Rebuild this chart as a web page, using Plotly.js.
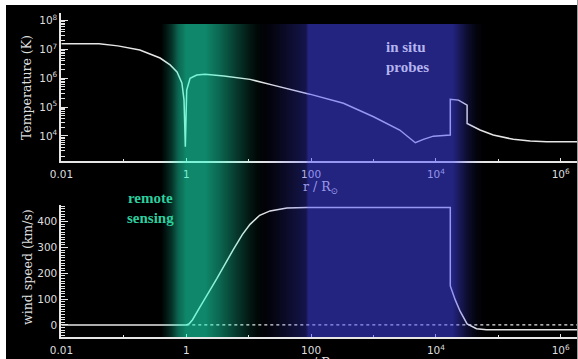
<!DOCTYPE html>
<html>
<head>
<meta charset="utf-8">
<script src="https://cdn.plot.ly/plotly-3.0.1.min.js"></script>
<style>
  html, body { margin: 0; padding: 0; background: #000; }
  #chart { width: 578px; height: 359px; }
</style>
</head>
<body>
<div id="chart"></div>
<script>
// Heliocentric distance in solar radii and the electron temperature profile
const rTemp = [0.01, 0.04, 0.08, 0.18, 0.38, 0.55, 0.71, 0.85, 0.92, 0.965, 1.015, 1.15, 1.47, 2.0, 4.0,
  10.5, 24.5, 95, 330, 1000, 2630, 4680, 6300, 9100, 17000, 17000, 23000, 31600, 31600, 51000, 83000,
  174000, 324000, 600000, 1.9e6];
const tempK = [1.55e7, 1.55e7, 1.32e7, 9.5e6, 5.0e6, 2.9e6, 1.66e6, 6.8e5, 1.74e5, 4200, 3.9e5, 1.0e6, 1.29e6, 1.38e6, 1.2e6,
  9.1e5, 5.75e5, 2.8e5, 1.35e5, 4.6e4, 1.6e4, 5800, 7600, 9800, 1.07e4, 1.86e5, 1.74e5, 1.17e5, 2.7e4, 1.6e4, 1.07e4,
  7600, 6600, 6300, 6300];

// Solar wind speed profile
const rWind = [0.01, 1.0, 1.12, 1.26, 1.66, 3.1, 5.6, 7.9, 10.5, 15, 22, 41, 85, 17000, 17000, 20400, 24500, 31600,
  44700, 64600, 1.9e6];
const windKms = [0, 0, 5, 20, 70, 180, 290, 350, 390, 425, 442, 453, 455, 455, 151, 97, 52, 4, -15, -19, -19];

// Zero reference drawn dotted beyond the solar surface
const rZero = [1, 1.9e6];
const zeroKms = [0, 0];

// Axis ticks
const xTickVals = [0.01, 1, 100, 1e4, 1e6];
const xTickText = ['0.01', '1', '100', '10<sup>4</sup>', '10<sup>6</sup>'];
const xMinorVals = [0.1, 10, 1000, 1e5];
const tTickVals = [1e4, 1e5, 1e6, 1e7, 1e8];
const tTickText = ['10<sup>4</sup>', '10<sup>5</sup>', '10<sup>6</sup>', '10<sup>7</sup>', '10<sup>8</sup>'];
const vTickVals = [0, 100, 200, 300, 400];
const vTickText = ['0', '100', '200', '300', '400'];

// Observation regimes, as opacity stops along log10(r)
const remoteStops = [[-0.40, 0], [-0.24, 0.35], [-0.13, 0.75], [0.0, 1], [0.30, 1], [0.54, 0.75],
  [0.78, 0.45], [0.99, 0.2], [1.15, 0.05], [1.26, 0]];
const inSituStops = [[1.15, 0], [1.34, 0.1], [1.58, 0.3], [1.82, 0.5], [1.92, 0.6], [1.95, 1],
  [4.27, 1], [4.38, 0.7], [4.51, 0.35], [4.64, 0.12], [4.77, 0]];

const W = 578, H = 359, L = 61;
const xRange = [-2.008, 6.277];
const plotW = W - L;

const lineCol = '#e6e6e6';
const tickFont = { family: 'DejaVu Sans', size: 10.5, color: '#dedede' };
const titleFont = { family: 'DejaVu Serif', size: 12.5, color: '#dedede' };

function interp(stops, v) {
  if (v <= stops[0][0] || v >= stops[stops.length - 1][0]) return 0;
  for (let i = 1; i < stops.length; i++) {
    if (v <= stops[i][0]) {
      const [a0, o0] = stops[i - 1], [a1, o1] = stops[i];
      return o0 + (o1 - o0) * (v - a0) / (a1 - a0);
    }
  }
  return 0;
}

// Translucent colour wash over both panels, one pixel column at a time
const shapes = [];
const bandTop = 1 - 24 / H, bandBot = 1 - 337 / H;
for (let px = 150; px < 500; px++) {
  const lr = xRange[0] + (px + 0.5 - L) / plotW * (xRange[1] - xRange[0]);
  const g = interp(remoteStops, lr) * 0.53;
  const b = interp(inSituStops, lr) * 0.5;
  const a = g + b;
  if (a <= 0.002) continue;
  const r = Math.round((28 * g + 70 * b) / a);
  const gg = Math.round((255 * g + 70 * b) / a);
  const bb = Math.round((200 * g + 255 * b) / a);
  shapes.push({
    type: 'rect', xref: 'paper', yref: 'paper', layer: 'above',
    x0: (px - L) / plotW, x1: (px + 1 - L) / plotW, y0: bandBot, y1: bandTop,
    fillcolor: `rgba(${r},${gg},${bb},${a.toFixed(3)})`, line: { width: 0 }
  });
}
// Light frame along the page edges
shapes.push({ type: 'rect', xref: 'paper', yref: 'paper', layer: 'above',
  x0: -L / plotW, x1: 1.01, y0: 1 - 5 / H, y1: 1.01, fillcolor: '#ffffff', line: { width: 0 } });
shapes.push({ type: 'rect', xref: 'paper', yref: 'paper', layer: 'above',
  x0: -L / plotW - 0.01, x1: (6 - L) / plotW, y0: -0.01, y1: 1.01, fillcolor: '#ffffff', line: { width: 0 } });
shapes.push({ type: 'rect', xref: 'paper', yref: 'paper', layer: 'above',
  x0: (W - 1 - L) / plotW, x1: 1.01, y0: -0.01, y1: 1.01, fillcolor: '#9a9a9a', line: { width: 0 } });

const yMinorT = [];
for (let e = 3; e <= 8; e++) for (let m = 2; m <= 9; m++) yMinorT.push(m * Math.pow(10, e));
const yMinorV = [];
for (let v = -40; v <= 460; v += 10) if (v % 100 !== 0) yMinorV.push(v);

const xCommon = {
  type: 'log', range: xRange, showgrid: false, zeroline: false,
  showline: true, linecolor: lineCol, linewidth: 1.6,
  ticks: 'inside', ticklen: 3, tickwidth: 1, tickcolor: lineCol,
  tickmode: 'array', tickvals: xTickVals, ticktext: xTickText, tickfont: tickFont,
  ticklabelstandoff: 3,
  minor: { tickmode: 'array', tickvals: xMinorVals, ticks: 'inside', ticklen: 2, tickcolor: lineCol, showgrid: false },
  automargin: false
};

const yCommon = {
  showgrid: false, zeroline: false, showline: true, linecolor: lineCol, linewidth: 1.6,
  ticks: 'inside', ticklen: 7, tickwidth: 1, tickcolor: lineCol,
  tickmode: 'array', tickfont: tickFont, automargin: false
};

const data = [
  { x: rTemp, y: tempK, xaxis: 'x', yaxis: 'y', mode: 'lines', line: { color: lineCol, width: 1.5 }, hoverinfo: 'skip' },
  { x: rWind, y: windKms, xaxis: 'x2', yaxis: 'y2', mode: 'lines', line: { color: lineCol, width: 1.5 }, hoverinfo: 'skip' },
  { x: rZero, y: zeroKms, xaxis: 'x2', yaxis: 'y2', mode: 'lines', line: { color: lineCol, width: 1.2, dash: 'dot' }, hoverinfo: 'skip' }
];

// Axis titles placed as paper-anchored text
const px2x = px => (px - L) / plotW;
const px2y = py => 1 - py / H;

const layout = {
  width: W, height: H,
  margin: { l: L, r: 0, t: 0, b: 0 },
  paper_bgcolor: '#000', plot_bgcolor: '#000',
  showlegend: false,
  xaxis: Object.assign({}, xCommon, { domain: [0, 1], anchor: 'y' }),
  yaxis: Object.assign({}, yCommon, {
    type: 'log', range: [3.13, 8.26], domain: [px2y(161), px2y(13)], anchor: 'x',
    tickvals: tTickVals, ticktext: tTickText,
    minor: { tickmode: 'array', tickvals: yMinorT, ticks: 'inside', ticklen: 4, tickcolor: lineCol, showgrid: false }
  }),
  xaxis2: Object.assign({}, xCommon, { domain: [0, 1], anchor: 'y2' }),
  yaxis2: Object.assign({}, yCommon, {
    range: [-47, 465], domain: [px2y(337), px2y(205)], anchor: 'x2',
    tickvals: vTickVals, ticktext: vTickText,
    minor: { tickmode: 'array', tickvals: yMinorV, ticks: 'inside', ticklen: 4, tickcolor: lineCol, showgrid: false }
  }),
  annotations: [
    { xref: 'paper', yref: 'paper', x: px2x(27), y: px2y(88), xanchor: 'center', yanchor: 'middle',
      text: 'Temperature (K)', textangle: -90, showarrow: false, font: titleFont },
    { xref: 'paper', yref: 'paper', x: px2x(27), y: px2y(267), xanchor: 'center', yanchor: 'middle',
      text: 'wind speed (km/s)', textangle: -90, showarrow: false, font: titleFont },
    { xref: 'paper', yref: 'paper', x: px2x(320), y: px2y(187), xanchor: 'center', yanchor: 'middle',
      text: 'r / R<sub>⊙</sub>', showarrow: false,
      font: { family: 'DejaVu Serif', size: 12.5, color: '#9a9ae6' } },
    { xref: 'paper', yref: 'paper', x: px2x(320), y: px2y(363), xanchor: 'center', yanchor: 'middle',
      text: 'r / R<sub>⊙</sub>', showarrow: false, font: titleFont },
    { xref: 'paper', yref: 'paper', x: px2x(150), y: px2y(208), xanchor: 'center', yanchor: 'middle',
      text: '<b>remote</b><br><b>sensing</b>', showarrow: false, align: 'center',
      font: { family: 'Liberation Serif', size: 15, color: '#2ccf9e' } },
    { xref: 'paper', yref: 'paper', x: px2x(384), y: px2y(57), xanchor: 'left', yanchor: 'middle',
      text: '<b>in situ</b><br><b>probes</b>', showarrow: false, align: 'left',
      font: { family: 'Liberation Serif', size: 15, color: '#b4b4ee' } }
  ],
  shapes: shapes
};

Plotly.newPlot('chart', data, layout, { staticPlot: true, displayModeBar: false });
</script>
</body>
</html>
